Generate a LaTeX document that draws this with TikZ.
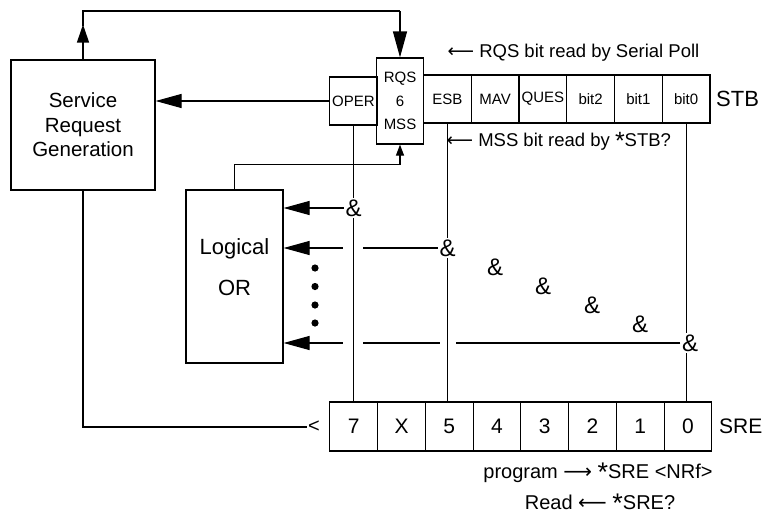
\documentclass[tikz,border=0pt]{standalone}
\usepackage{fontspec}
\setmainfont{Liberation Sans}
\newfontfamily\arrowfont{DejaVu Sans}
\usetikzlibrary{arrows.meta,positioning,calc}

\newcommand\Ast{\raisebox{-0.3ex}{\scalebox{1.35}{*}}}

\tikzset{
  box/.style={draw, inner sep=0pt},
  cell/.style={box, minimum width=47.75pt, minimum height=48pt, font=\fontsize{15}{18}\selectfont},
  srecell/.style={box, minimum width=47.75pt, minimum height=49pt, font=\fontsize{21}{24}\selectfont},
  amp/.style={inner sep=1pt, font=\fontsize{24}{26}\selectfont},
  note/.style={inner sep=0pt, font=\fontsize{18.5}{22}\selectfont},
  bigarrow/.style={-{Triangle[length=26pt,width=14pt]}},
  uparrow/.style={-{Triangle[length=18pt,width=12pt]}},
  tinyarrow/.style={-{Triangle[length=11pt,width=8pt]}},
}

\begin{document}
\begin{tikzpicture}[x=1pt, y=-1pt, line width=1.2pt]
\useasboundingbox (0,0) rectangle (782,517);

%Service Request Generation
\node[box, minimum width=144pt, minimum height=130pt, align=center,
  font=\fontsize{20.5}{24.5}\selectfont] (srg) at (83,125) {Service\\Request\\Generation};

%STB
\node[cell] (oper) at (353.5,101) {OPER};
\node[box, minimum width=47pt, minimum height=86pt, align=center,
  font=\fontsize{15}{23.5}\selectfont] (rqs) at (400,101) {RQS\\6\\MSS};
\foreach \t [count=\i] in {ESB,MAV,QUES,bit2,bit1,bit0}
{ \node[cell] (stb\i) at (399.6+47.75*\i, 99) {\t}; }
\node[right=5pt of stb6, inner sep=0pt, font=\fontsize{22}{26}\selectfont] (stb) {STB};

\node[note, anchor=west] (rqsnote) at (447,53) {{\arrowfont ⟵} RQS bit read by Serial Poll};
\node[note, anchor=west] (mssnote) at (446,141) {{\arrowfont ⟵} MSS bit read by \Ast STB?};

%SRE
\foreach \t [count=\i] in {7,X,5,4,3,2,1,0}
{ \node[srecell] (sre\i) at (306+47.75*\i, 426.5) {\t}; }
\node[right=6pt of sre8, inner sep=0pt, font=\fontsize{21}{24}\selectfont] (sre) {SRE};

\node[note, font=\fontsize{20}{24}\selectfont] (prog) at (598,473) {program {\arrowfont ⟶} \Ast SRE <NRf>};
\node[note, font=\fontsize{20}{24}\selectfont] (readq) at (600,503) {Read {\arrowfont ⟵} \Ast SRE?};

%Logical OR
\node[box, minimum width=97pt, minimum height=173pt] (lor) at (234.5,276.5) {};
\node[align=center, font=\fontsize{22}{26}\selectfont] (lortext) at (234.5,267) {Logical\\[15pt]OR};
\foreach \y in {268,286.5,305,323}
{ \fill (315,\y) circle (3.6pt); }

%AND gates
\node[amp] (amp1) at (353.5,208) {\&};
\node[amp] (amp2) at (447.5,248) {\&};
\foreach \x/\y [count=\i from 3] in {495/267,543/286,592/305,640/324}
{ \node[amp] (amp\i) at (\x,\y) {\&}; }
\node[amp] (amp7) at (690,343) {\&};

\draw (oper.south) -- (amp1.north);
\draw (amp1.south) -- (amp1.south |- sre1.north);
\draw (stb1.south) -- (stb1.south |- amp2.north);
\draw (stb1.south |- amp2.south) -- (stb1.south |- sre3.north);
\draw (stb6.south) -- (stb6.south |- amp7.north);
\draw (stb6.south |- amp7.south) -- (stb6.south |- sre8.north);

\draw[bigarrow] (amp1.west) -- (amp1.west -| lor.east);
\draw (amp2.west) -- ($(amp1 |- amp2)+(9,0)$);
\draw[bigarrow] ($(amp1 |- amp2)+(-11,0)$) -- (amp2 -| lor.east);
\draw (amp7.west) -- ($(amp2 |- amp7)+(8,0)$);
\draw ($(amp2 |- amp7)+(-8,0)$) -- ($(amp1 |- amp7)+(9,0)$);
\draw[bigarrow] ($(amp1 |- amp7)+(-11,0)$) -- (amp7 -| lor.east);

%loops
\coordinate (topl) at (srg.north |- 0,11);
\coordinate (topr) at (rqs.north |- 0,11);
\draw[uparrow] (srg.north) -- ($(srg.north)!0.72!(topl)$);
\draw ($(srg.north)!0.7!(topl)$) -- (topl) -- (topr);
\draw[bigarrow] (topr) -- (rqs.north);
\draw[bigarrow] (oper.west) -- (oper.west -| srg.east);
\draw[tinyarrow] (lor.north) -- ++(0,-25) -| (rqs.south);

\node[inner sep=1pt, font=\fontsize{20}{24}\selectfont] (lt) at (314,427) {<};
\draw (srg.south) |- (lt.west);
\end{tikzpicture}
\end{document}
